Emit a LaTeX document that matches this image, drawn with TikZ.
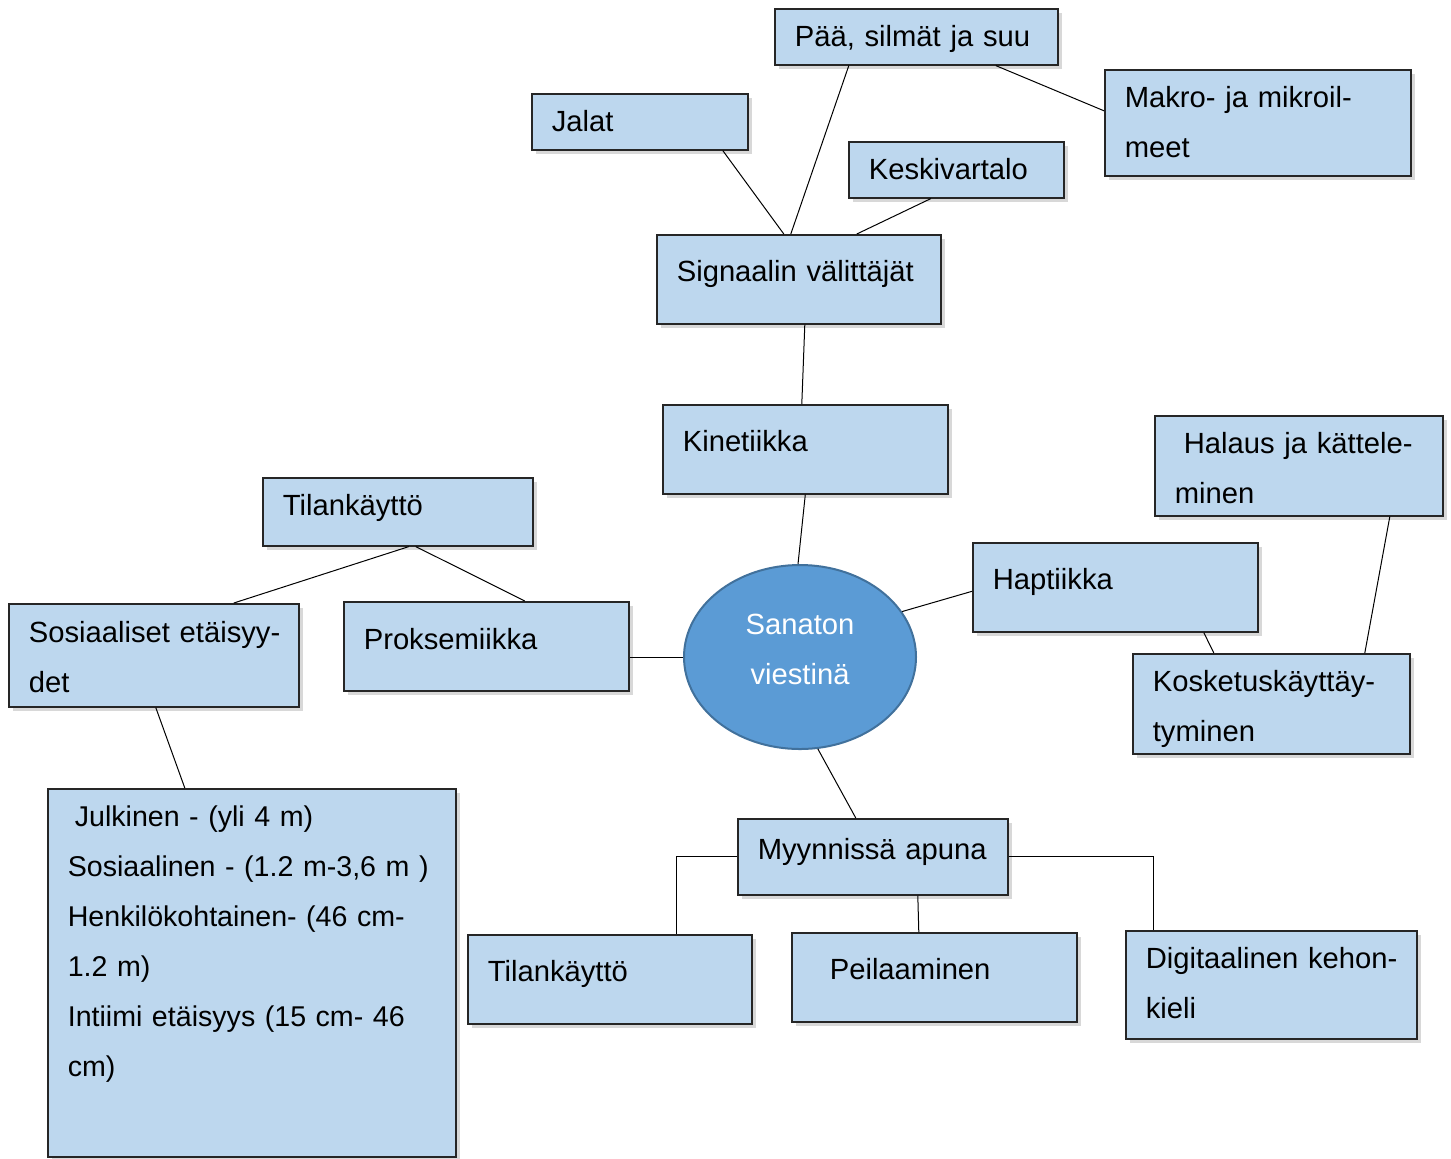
\documentclass[tikz,border=0pt]{standalone}
\usepackage{fontspec}
\setmainfont{Liberation Sans}
\usepackage{tikz}
\usetikzlibrary{
  shapes.geometric,
  shadows
}
\definecolor{mapblue}{RGB}{189,215,238}
\definecolor{hubblue}{RGB}{91,155,213}
\definecolor{hubedge}{RGB}{65,113,156}
\newcommand{\mapfont}{\fontsize{14.6}{25}\selectfont}
\tikzset{
  block/.style={
    rectangle, draw=black!85, line width=0.8pt, fill=mapblue,
    anchor=north west, inner xsep=10pt, inner ysep=0pt, minimum height=0pt,
    align=left, text height=19pt, font=\mapfont,
    drop shadow={shadow xshift=2pt, shadow yshift=-2pt, opacity=0.3}
  },
  blockT/.style={
    block, text height=23.5pt
  },
  hub/.style={
    ellipse, draw=hubedge, line width=1pt, fill=hubblue, text=white,
    minimum width=116pt, minimum height=92pt, inner sep=0pt,
    text width=60pt, align=center, text height=11pt, text depth=34pt,
    font=\mapfont
  },
  link/.style={draw=black, line width=0.5pt}
}

\begin{document}
\begin{tikzpicture}[x=0.5pt, y=-0.5pt]
  \fill[white] (0,0) rectangle (1451,1158);
  \useasboundingbox (0,0) rectangle (1451,1158);

  \node[block, text width=121.5pt, text depth=9pt] (paa) at (774,8) {Pää, silmät ja suu};
  \node[block, text width=88pt, text depth=9pt] (jalat) at (531,93) {Jalat};
  \node[block, text width=133pt, text depth=34pt] (makro) at (1104,69) {Makro- ja mikroil-\\meet};
  \node[block, text width=87.5pt, text depth=9pt] (keski) at (848,141) {Keskivartalo};
  \node[blockT, text width=122pt, text depth=21pt] (signaali) at (656,234) {Signaalin välittäjät};
  \node[blockT, text width=122.5pt, text depth=21pt] (kinetiikka) at (662,404) {Kinetiikka};
  \node[block, text width=124pt, text depth=31pt] (halaus) at (1154,415)
    {\hspace*{4.5pt}Halaus ja kättele-\\minen};
  \node[block, text width=115pt, text depth=15pt] (tilaYla) at (262,477) {Tilankäyttö};
  \node[blockT, text width=122.5pt, text depth=21pt] (haptiikka) at (972,542) {Haptiikka};
  \node[block, text width=125pt, text height=19.5pt, text depth=32pt] (sosiaaliset) at (8,603)
    {\mbox{Sosiaaliset etäisyy-}\\det};
  \node[blockT, text width=122.5pt, text height=24pt, text depth=20.5pt] (proksemiikka) at (343,601) {Proksemiikka};
  \node[hub] (sanaton) at (800,657) {Sanaton\\viestinä};
  \node[block, text width=118.5pt, text depth=31pt] (kosketus) at (1132,653) {Kosketuskäyttäy-\\tyminen};
  \node[block, text width=184pt, text depth=165pt, font=\fontsize{14.3}{25}\selectfont] (etaisyydet) at (47,788)
    {\hspace*{3.5pt}Julkinen - (yli 4 m)\\
     \mbox{Sosiaalinen - (1.2 m-3,6 m )}\\
     Henkilökohtainen- (46 cm-\\
     1.2 m)\\
     Intiimi etäisyys (15 cm- 46\\
     cm)};
  \node[block, text width=115pt, text height=20.5pt, text depth=17.5pt] (myynti) at (737,818) {Myynnissä apuna};
  \node[blockT, text width=122pt, text depth=21pt] (tilaAla) at (467,934) {Tilankäyttö};
  \node[blockT, text width=122.5pt, text depth=21pt] (peilaus) at (791,932) {\hspace*{9pt}Peilaaminen};
  \node[block, text width=125.5pt, text depth=35pt] (digi) at (1125,930)
    {\mbox{Digitaalinen kehon-}\\kieli};

  \draw[link] ([xshift=-33.75pt]paa.south) -- ([xshift=-4pt]signaali.north);
  \draw[link] ([xshift=39.75pt]paa.south) -- ([yshift=6pt]makro.west);
  \draw[link] ([xshift=41.5pt]jalat.south) -- ([xshift=-7.5pt]signaali.north);
  \draw[link] ([xshift=-12.75pt]keski.south) -- ([xshift=29pt]signaali.north);
  \draw[link] ([xshift=3pt]signaali.south) -- ([xshift=-1.75pt]kinetiikka.north);
  \draw[link] (kinetiikka.south) -- ([xshift=-1pt]sanaton.north);
  \draw[link] ([xshift=5.5pt]tilaYla.south) -- ([xshift=40pt]sosiaaliset.north);
  \draw[link] ([xshift=9pt]tilaYla.south) -- ([xshift=19.25pt]proksemiikka.north);
  \draw[link] ([xshift=1pt]sosiaaliset.south) -- ([xshift=-33.5pt]etaisyydet.north);
  \draw[link] (sanaton.west) -- (sanaton.west -| proksemiikka.east);
  \draw[link] (sanaton.24) -- ([yshift=-2pt]haptiikka.west);
  \draw[link] ([xshift=44.25pt]haptiikka.south) -- ([xshift=-28.75pt]kosketus.north);
  \draw[link] ([xshift=45.5pt]halaus.south) -- ([xshift=46.75pt]kosketus.north);
  \draw[link] (sanaton.-79) -- ([xshift=-8.5pt]myynti.north);
  \draw[link] (myynti.west) -| ([xshift=33.5pt]tilaAla.north);
  \draw[link] (myynti.east) -| ([xshift=-58.75pt]digi.north);
  \draw[link] ([xshift=22.5pt]myynti.south) -- ([xshift=-7.75pt]peilaus.north);
\end{tikzpicture}
\end{document}
